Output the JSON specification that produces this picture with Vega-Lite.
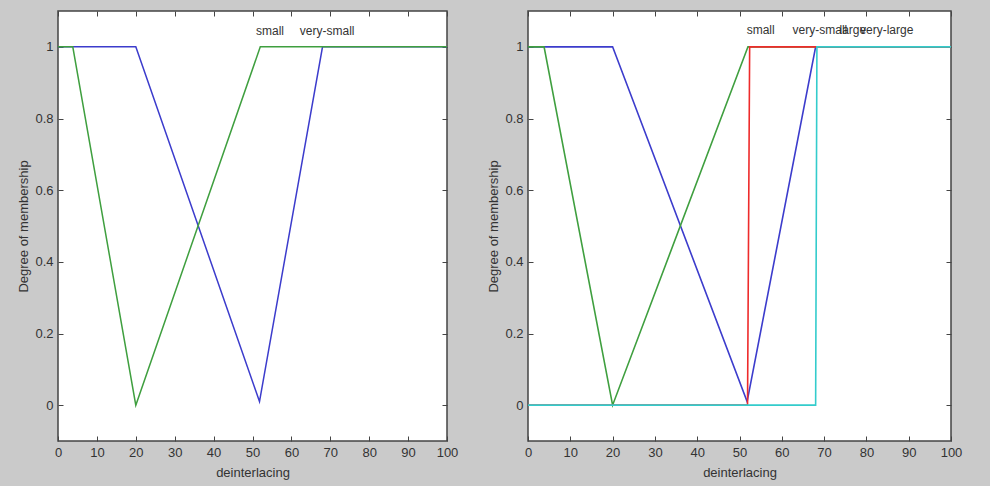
{
  "$schema": "https://vega.github.io/schema/vega-lite/v6.json",
  "background": "#cacaca",
  "padding": {"left": 16, "top": 9, "right": 40, "bottom": 6},
  "datasets": {
    "left": [
      {"panel": "left", "mf": "very-small", "i": 1, "x": 0, "y": 1},
      {"panel": "left", "mf": "very-small", "i": 2, "x": 20, "y": 1},
      {"panel": "left", "mf": "very-small", "i": 3, "x": 51.8, "y": 0.01},
      {"panel": "left", "mf": "very-small", "i": 4, "x": 68, "y": 1},
      {"panel": "left", "mf": "very-small", "i": 5, "x": 100, "y": 1},
      {"panel": "left", "mf": "small", "i": 1, "x": 0, "y": 1},
      {"panel": "left", "mf": "small", "i": 2, "x": 3.8, "y": 1},
      {"panel": "left", "mf": "small", "i": 3, "x": 20, "y": 0},
      {"panel": "left", "mf": "small", "i": 4, "x": 52, "y": 1},
      {"panel": "left", "mf": "small", "i": 5, "x": 100, "y": 1}
    ],
    "right": [
      {"panel": "right", "mf": "very-small", "i": 1, "x": 0, "y": 1},
      {"panel": "right", "mf": "very-small", "i": 2, "x": 20, "y": 1},
      {"panel": "right", "mf": "very-small", "i": 3, "x": 51.8, "y": 0.01},
      {"panel": "right", "mf": "very-small", "i": 4, "x": 68, "y": 1},
      {"panel": "right", "mf": "very-small", "i": 5, "x": 100, "y": 1},
      {"panel": "right", "mf": "small", "i": 1, "x": 0, "y": 1},
      {"panel": "right", "mf": "small", "i": 2, "x": 3.8, "y": 1},
      {"panel": "right", "mf": "small", "i": 3, "x": 20, "y": 0},
      {"panel": "right", "mf": "small", "i": 4, "x": 52, "y": 1},
      {"panel": "right", "mf": "small", "i": 5, "x": 100, "y": 1},
      {"panel": "right", "mf": "large", "i": 1, "x": 0, "y": 0},
      {"panel": "right", "mf": "large", "i": 2, "x": 51.9, "y": 0},
      {"panel": "right", "mf": "large", "i": 3, "x": 52.4, "y": 1},
      {"panel": "right", "mf": "large", "i": 4, "x": 100, "y": 1},
      {"panel": "right", "mf": "very-large", "i": 1, "x": 0, "y": 0},
      {"panel": "right", "mf": "very-large", "i": 2, "x": 68, "y": 0},
      {"panel": "right", "mf": "very-large", "i": 3, "x": 68.3, "y": 1},
      {"panel": "right", "mf": "very-large", "i": 4, "x": 100, "y": 1}
    ],
    "leftLabels": [
      {"label": "small", "x": 54.5, "y": 1.045},
      {"label": "very-small", "x": 69.2, "y": 1.045}
    ],
    "rightLabels": [
      {"label": "small", "x": 55, "y": 1.047},
      {"label": "very-small", "x": 69, "y": 1.047},
      {"label": "large", "x": 76.8, "y": 1.047},
      {"label": "very-large", "x": 84.8, "y": 1.047}
    ]
  },
  "hconcat": [
    {
      "width": 389,
      "height": 430,
      "layer": [
        {
          "data": {"name": "left"},
          "mark": {"type": "line", "strokeWidth": 1.5},
          "encoding": {
            "x": {"field": "x", "type": "quantitative", "scale": {"domain": [0, 100], "nice": false, "zero": false},
                  "axis": {"orient": "bottom", "title": "deinterlacing", "values": [0,10,20,30,40,50,60,70,80,90,100]}},
            "y": {"field": "y", "type": "quantitative", "scale": {"domain": [-0.1, 1.1], "nice": false, "zero": false},
                  "axis": {"orient": "left", "title": "Degree of membership", "values": [0,0.2,0.4,0.6,0.8,1], "format": "~g", "minExtent": 20, "maxExtent": 20, "titlePadding": 8}},
            "color": {"field": "mf", "type": "nominal", "legend": null,
                      "scale": {"domain": ["very-small", "small", "large", "very-large"], "range": ["#3c3ccc", "#3f9f3f", "#ee2b2b", "#33cccc"]}},
            "order": {"field": "i", "type": "quantitative"}
          }
        },
        {
          "data": {"name": "leftLabels"},
          "mark": {"type": "text", "font": "Liberation Sans", "fontSize": 12, "color": "#333333", "baseline": "middle", "align": "center"},
          "encoding": {
            "x": {"field": "x", "type": "quantitative", "axis": {"orient": "top", "title": null, "labels": false, "values": [0,10,20,30,40,50,60,70,80,90,100]}},
            "y": {"field": "y", "type": "quantitative", "axis": {"orient": "right", "title": null, "labels": false, "values": [0,0.2,0.4,0.6,0.8,1]}},
            "text": {"field": "label"}
          }
        }
      ],
      "resolve": {"axis": {"x": "independent", "y": "independent"}}
    },
    {
      "width": 423,
      "height": 430,
      "layer": [
        {
          "data": {"name": "right"},
          "mark": {"type": "line", "strokeWidth": 1.6},
          "encoding": {
            "x": {"field": "x", "type": "quantitative", "scale": {"domain": [0, 100], "nice": false, "zero": false},
                  "axis": {"orient": "bottom", "title": "deinterlacing", "values": [0,10,20,30,40,50,60,70,80,90,100]}},
            "y": {"field": "y", "type": "quantitative", "scale": {"domain": [-0.1, 1.1], "nice": false, "zero": false},
                  "axis": {"orient": "left", "title": "Degree of membership", "values": [0,0.2,0.4,0.6,0.8,1], "format": "~g", "minExtent": 20, "maxExtent": 20, "titlePadding": 8}},
            "color": {"field": "mf", "type": "nominal", "legend": null,
                      "scale": {"domain": ["very-small", "small", "large", "very-large"], "range": ["#3c3ccc", "#3f9f3f", "#ee2b2b", "#33cccc"]}},
            "order": {"field": "i", "type": "quantitative"}
          }
        },
        {
          "data": {"name": "rightLabels"},
          "mark": {"type": "text", "font": "Liberation Sans", "fontSize": 12, "color": "#333333", "baseline": "middle", "align": "center"},
          "encoding": {
            "x": {"field": "x", "type": "quantitative", "axis": {"orient": "top", "title": null, "labels": false, "values": [0,10,20,30,40,50,60,70,80,90,100]}},
            "y": {"field": "y", "type": "quantitative", "axis": {"orient": "right", "title": null, "labels": false, "values": [0,0.2,0.4,0.6,0.8,1]}},
            "text": {"field": "label"}
          }
        }
      ],
      "resolve": {"axis": {"x": "independent", "y": "independent"}}
    }
  ],
  "spacing": 81,
  "bounds": "flush",
  "config": {
    "view": {"stroke": "#444444", "strokeWidth": 1.5, "fill": "white"},
    "axis": {
      "grid": false,
      "domain": false,
      "ticks": true,
      "tickSize": -5,
      "tickColor": "#444444",
      "tickWidth": 1,
      "labelPadding": 10,
      "labelFont": "Liberation Sans",
      "labelFontSize": 13,
      "labelColor": "#333333",
      "titleFont": "Liberation Sans",
      "titleFontSize": 13,
      "titleFontWeight": "normal",
      "titleColor": "#333333"
    },
    "axisX": {"titlePadding": 7, "labelFlush": false}
  }
}
